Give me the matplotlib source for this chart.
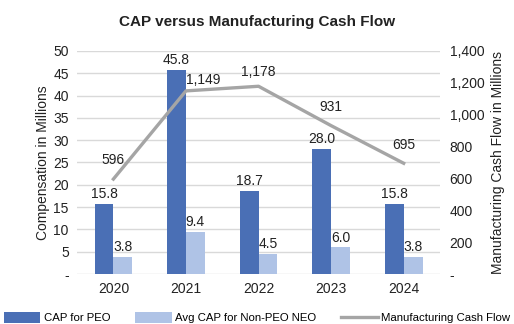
#! /usr/bin/env python3
import matplotlib
matplotlib.use('Agg')
import matplotlib.pyplot as plt
import numpy as np

plt.rcParams['font.family'] = ['Liberation Sans', 'DejaVu Sans']

# Data
years = ['2020', '2021', '2022', '2023', '2024']
cap_peo = [15.8, 45.8, 18.7, 28.0, 15.8]
cap_neo = [3.8, 9.4, 4.5, 6.0, 3.8]
mfg_cash = [596, 1149, 1178, 931, 695]
left_ticks = [0, 5, 10, 15, 20, 25, 30, 35, 40, 45, 50]
right_ticks = [0, 200, 400, 600, 800, 1000, 1200, 1400]

dark_blue = '#4A6FB5'
light_blue = '#AFC3E6'
grey = '#A5A5A5'
text_col = '#222222'

fig = plt.figure(figsize=(5.14, 3.24), dpi=100)
ax = fig.add_axes([0.150, 0.154, 0.706, 0.689])
ax2 = ax.twinx()

x = np.arange(len(years))
w = 0.26
ax.bar(x - w / 2, cap_peo, w, color=dark_blue, label='CAP for PEO', zorder=2)
ax.bar(x + w / 2, cap_neo, w, color=light_blue, label='Avg CAP for Non-PEO NEO', zorder=2)
ax2.plot(x, mfg_cash, color=grey, lw=2.4, label='Manufacturing Cash Flow', zorder=3)

# label offsets for the line (a couple nudged to clear the bars)
line_dx = [0, 0.24, 0, 0, 0]
line_dy = [75, 25, 45, 70, 70]
for i in range(len(years)):
    ax.text(x[i] - w / 2, cap_peo[i] + 0.6, f'{cap_peo[i]:.1f}', ha='center', va='bottom',
            fontsize=10, color=text_col)
    ax.text(x[i] + w / 2, cap_neo[i] + 0.6, f'{cap_neo[i]:.1f}', ha='center', va='bottom',
            fontsize=10, color=text_col)
    ax2.text(x[i] + line_dx[i], mfg_cash[i] + line_dy[i], f'{mfg_cash[i]:,}', ha='center',
             va='bottom', fontsize=10, color=text_col)

ax.set_xlim(-0.5, 4.5)
ax.set_ylim(0, 50)
ax2.set_ylim(0, 1400)
ax.set_xticks(x)
ax.set_xticklabels(years)
ax.set_yticks(left_ticks)
ax.set_yticklabels(['-'] + [str(t) for t in left_ticks[1:]])
ax2.set_yticks(right_ticks)
ax2.set_yticklabels(['-'] + [f'{t:,}' for t in right_ticks[1:]])

ax.grid(axis='y', color='#D9D9D9', lw=1, zorder=0)
for a in (ax, ax2):
    for s in a.spines.values():
        s.set_visible(False)
    a.tick_params(length=0, labelsize=10, colors=text_col)
ax.tick_params(axis='y', pad=6)
ax2.tick_params(axis='y', pad=7)
ax.tick_params(axis='x', labelsize=10, pad=6)

ax.set_ylabel('Compensation in Millions', fontsize=10, color=text_col, labelpad=2)
ax2.set_ylabel('Manufacturing Cash Flow in Millions', fontsize=10, color=text_col, labelpad=5)
fig.suptitle('CAP versus Manufacturing Cash Flow', fontsize=11, fontweight='bold',
             color=text_col, y=0.955)

h1, l1 = ax.get_legend_handles_labels()
h2, l2 = ax2.get_legend_handles_labels()
fig.legend(h1 + h2, l1 + l2, loc='lower center', ncol=3, frameon=False, fontsize=8.2,
           bbox_to_anchor=(0.5, -0.03), handlelength=3.2, handleheight=1.0,
           columnspacing=2.2, handletextpad=0.3)

fig.savefig('out.png', dpi=100)
